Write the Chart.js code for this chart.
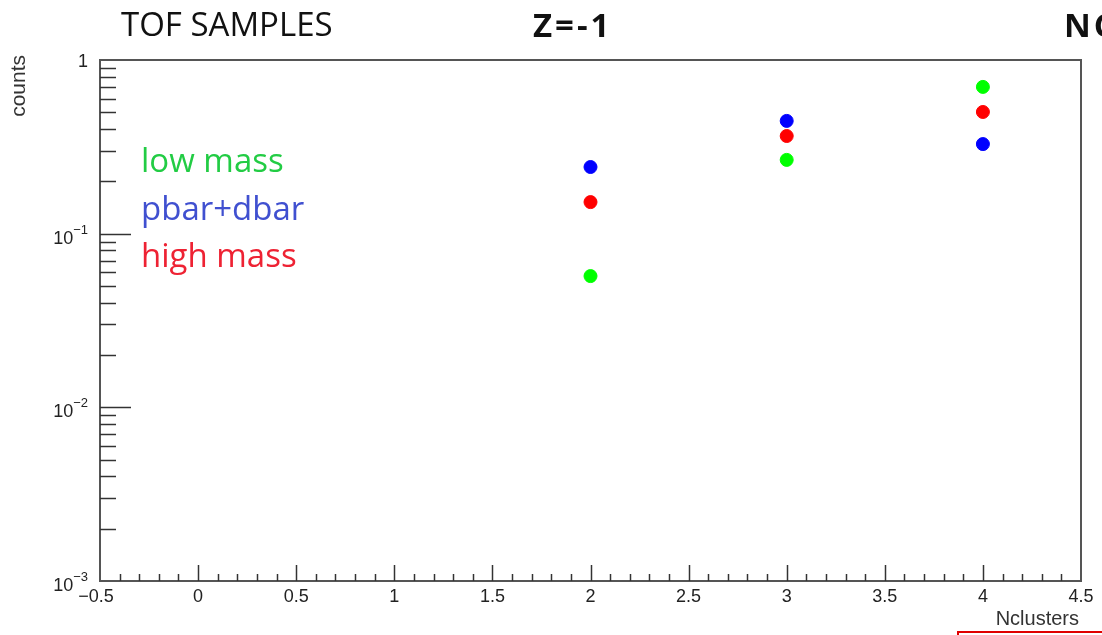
<!DOCTYPE html>
<html>
<head>
<meta charset="utf-8">
<script src="https://cdn.jsdelivr.net/npm/chart.js@4/dist/chart.umd.min.js"></script>
<style>
  html, body { margin: 0; padding: 0; background: #fff; }
  #wrap { width: 1102px; height: 635px; position: relative; overflow: hidden; }
</style>
</head>
<body>
<div id="wrap"><canvas id="grafico" width="1102" height="635"></canvas></div>
<script>
// data
var nclusters = [2, 3, 4]
var lowMass = [0.057, 0.266, 0.70]
var pbarDbar = [0.242, 0.446, 0.328]
var highMass = [0.152, 0.365, 0.502]

var xMajor = [-0.5, 0, 0.5, 1, 1.5, 2, 2.5, 3, 3.5, 4, 4.5]
var xMajorLabels = ["\u22120.5", "0", "0.5", "1", "1.5", "2", "2.5", "3", "3.5", "4", "4.5"]
var yDecades = [0.001, 0.01, 0.1, 1]
var yDecadeLabels = ["10|\u22123", "10|\u22122", "10|\u22121", "1"]

const toPoints = (vals) => nclusters.map((x, i) => ({ x: x, y: vals[i] }))

// ROOT-like frame, inward ticks and labels, drawn from the chart's scales
const rootAxes = {
  id: "rootAxes",
  afterDraw(chart) {
    const ctx = chart.ctx
    const xs = chart.scales.x
    const ys = chart.scales.y
    const a = chart.chartArea
    ctx.save()
    ctx.strokeStyle = "#555"
    ctx.lineWidth = 2
    ctx.strokeRect(a.left, a.top, a.right - a.left, a.bottom - a.top)

    ctx.lineWidth = 1.5
    ctx.strokeStyle = "#333"
    // x ticks
    for (let k = -4; k <= 44; k++) {
      const px = Math.round(xs.getPixelForValue(k / 10)) + 0.5
      const len = (k % 5 === 0) ? 16 : 7
      ctx.beginPath()
      ctx.moveTo(px, a.bottom)
      ctx.lineTo(px, a.bottom - len)
      ctx.stroke()
    }
    // y ticks
    for (let d = 0; d < yDecades.length; d++) {
      const base = yDecades[d]
      const py = Math.round(ys.getPixelForValue(base)) + 0.5
      if (d > 0 && d < yDecades.length - 1) {
        ctx.beginPath()
        ctx.moveTo(a.left, py)
        ctx.lineTo(a.left + 31, py)
        ctx.stroke()
      }
      if (base >= 1) continue
      for (let m = 2; m <= 9; m++) {
        const pm = Math.round(ys.getPixelForValue(base * m)) + 0.5
        ctx.beginPath()
        ctx.moveTo(a.left, pm)
        ctx.lineTo(a.left + 16, pm)
        ctx.stroke()
      }
    }

    // x labels
    ctx.fillStyle = "#222"
    ctx.font = "18px 'Liberation Sans', Arial, sans-serif"
    ctx.textAlign = "center"
    ctx.textBaseline = "alphabetic"
    xMajor.forEach((v, i) => {
      ctx.fillText(xMajorLabels[i], xs.getPixelForValue(v) - (i === 0 ? 4 : 0), a.bottom + 21)
    })
    // y labels with superscripts
    yDecades.forEach((v, i) => {
      const py = ys.getPixelForValue(v)
      const parts = yDecadeLabels[i].split("|")
      ctx.textAlign = "right"
      if (parts.length === 1) {
        ctx.font = "18px 'Liberation Sans', Arial, sans-serif"
        ctx.fillText(parts[0], a.left - 12, py + 7)
      } else {
        ctx.font = "13px 'Liberation Sans', Arial, sans-serif"
        const supW = ctx.measureText(parts[1]).width
        ctx.fillText(parts[1], a.left - 12, py)
        ctx.font = "18px 'Liberation Sans', Arial, sans-serif"
        ctx.fillText(parts[0], a.left - 12 - supW, py + 10)
      }
    })

    // axis titles
    ctx.font = "20px 'Liberation Sans', Arial, sans-serif"
    ctx.textAlign = "right"
    ctx.fillStyle = "#333"
    ctx.fillText("Nclusters", a.right - 2, 625)
    ctx.save()
    ctx.translate(25, 55)
    ctx.rotate(-Math.PI / 2)
    ctx.font = "21px 'Liberation Sans', Arial, sans-serif"
    ctx.textAlign = "right"
    ctx.fillText("counts", 0, 0)
    ctx.restore()

    // titles
    ctx.textAlign = "left"
    ctx.fillStyle = "#111"
    ctx.font = "33px 'Open Sans', 'Noto Sans', sans-serif"
    ctx.fillText("TOF SAMPLES", 121, 36)
    ctx.font = "bold 33px 'Open Sans', 'Noto Sans', sans-serif"
    ctx.letterSpacing = "3px"
    ctx.fillText("Z=-1", 533, 37)
    ctx.fillText("NC", 1064, 37)
    ctx.letterSpacing = "0px"

    // text legend
    ctx.font = "33px 'Open Sans', 'Noto Sans', sans-serif"
    ctx.fillStyle = "#22cc44"
    ctx.fillText("low mass", 141, 172)
    ctx.fillStyle = "#4050d0"
    ctx.fillText("pbar+dbar", 141, 220)
    ctx.fillStyle = "#ee2233"
    ctx.fillText("high mass", 141, 267)

    // red box peeking at the bottom
    ctx.strokeStyle = "#e00000"
    ctx.lineWidth = 2
    ctx.strokeRect(958, 632, 200, 30)
    ctx.restore()
  }
}

const grafico = new Chart(document.getElementById("grafico"), {
  type: "scatter",
  data: {
    datasets: [
      { label: "low mass", data: toPoints(lowMass), backgroundColor: "#00ff00", borderColor: "#00ff00", pointRadius: 6.5 },
      { label: "high mass", data: toPoints(highMass), backgroundColor: "#ff0000", borderColor: "#ff0000", pointRadius: 6.5 },
      { label: "pbar+dbar", data: toPoints(pbarDbar), backgroundColor: "#0000ff", borderColor: "#0000ff", pointRadius: 6.5 }
    ]
  },
  options: {
    responsive: false,
    animation: false,
    layout: { padding: { left: 100, right: 21, top: 60, bottom: 54 } },
    scales: {
      x: { type: "linear", min: -0.5, max: 4.5, display: false },
      y: { type: "logarithmic", min: 0.001, max: 1, display: false }
    },
    plugins: {
      legend: { display: false },
      tooltip: { enabled: false }
    }
  },
  plugins: [rootAxes]
})
</script>
</body>
</html>
